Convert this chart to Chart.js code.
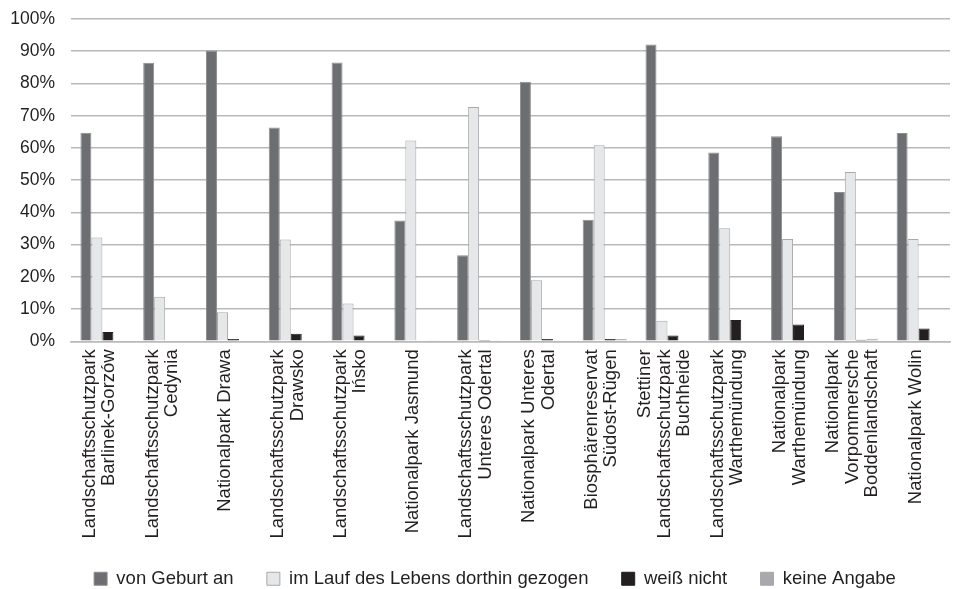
<!DOCTYPE html>
<html>
<head>
<meta charset="utf-8">
<script src="https://cdn.jsdelivr.net/npm/chart.js@4/dist/chart.umd.min.js"></script>
<style>
  html, body { margin: 0; padding: 0; background: #fff; overflow: hidden; }
  #wrap { width: 954px; height: 589px; overflow: hidden; }
</style>
</head>
<body>
<div id="wrap"><canvas id="chart" width="954" height="600"></canvas></div>
<script>
// categories (multi-line labels as shown under the axis)
var parks = [
    ['Landschaftsschutzpark', 'Barlinek-Gorzów'],
    ['Landschaftsschutzpark', 'Cedynia'],
    'Nationalpark Drawa',
    ['Landschaftsschutzpark', 'Drawsko'],
    ['Landschaftsschutzpark', 'Ińsko'],
    'Nationalpark Jasmund',
    ['Landschaftsschutzpark', 'Unteres Odertal'],
    ['Nationalpark Unteres', 'Odertal'],
    ['Biosphärenreservat', 'Südost-Rügen'],
    ['Stettiner', 'Landschaftsschutzpark', 'Buchheide'],
    ['Landschaftsschutzpark', 'Warthemündung'],
    ['Nationalpark', 'Warthemündung'],
    ['Nationalpark', 'Vorpommersche', 'Boddenlandschaft'],
    'Nationalpark Wolin'
];

// shares in percent
var vonGeburt   = [64.7, 86.4, 90.2, 66.3, 86.5, 37.5, 26.7, 80.5, 37.7, 92.1, 58.6, 63.6, 46.3, 64.6];
var zugezogen   = [32.2, 13.8, 9.0, 31.6, 11.7, 62.3, 72.7, 18.9, 60.8, 6.4, 35.1, 31.7, 52.5, 31.7];
var weissNicht  = [2.9, 0, 0.7, 2.3, 1.8, 0, 0.4, 0.7, 0.7, 1.8, 6.6, 5.2, 0.5, 4.0];
var keineAngabe = [0, 0, 0, 0, 0, 0.3, 0.3, 0, 0.7, 0, 0, 0, 0.8, 0];

var yTicks = [0, 10, 20, 30, 40, 50, 60, 70, 80, 90, 100];

Chart.defaults.font.family = '"Liberation Sans", Arial, sans-serif';
Chart.defaults.color = '#231f20';

// the legend in the original sits a bit right of centre
var legendShift = {
    id: 'legendShift',
    afterLayout: function (chart) {
        if (chart.legend) {
            chart.legend.left += 20;
            chart.legend.right += 20;
        }
    }
};

// centre multi-line rotated category labels on their tick
var centreLabels = {
    id: 'centreLabels',
    beforeDraw: function (chart) {
        var scale = chart.scales.x;
        scale.getLabelItems().forEach(function (item) {
            var n = Array.isArray(item.label) ? item.label.length : 1;
            var lh = item.font.lineHeight;
            item.textOffset = lh / 2 - (n - 1) * lh / 2 - 3;
        });
    }
};

var ctx = document.getElementById('chart').getContext('2d');
var chart = new Chart(ctx, {
    type: 'bar',
    data: {
        labels: parks,
        datasets: [{
            label: 'von Geburt an',
            data: vonGeburt,
            backgroundColor: '#6d6e71',
            borderColor: '#8d8e91',
            borderWidth: 1
        }, {
            label: 'im Lauf des Lebens dorthin gezogen',
            data: zugezogen,
            backgroundColor: '#e6e7e8',
            borderColor: '#a7a9ac',
            borderWidth: 1
        }, {
            label: 'weiß nicht',
            data: weissNicht,
            backgroundColor: '#231f20',
            borderColor: '#231f20',
            borderWidth: 1
        }, {
            label: 'keine Angabe',
            data: keineAngabe,
            backgroundColor: '#a7a9ac',
            borderColor: '#a7a9ac',
            borderWidth: 1
        }]
    },
    plugins: [legendShift, centreLabels],
    options: {
        responsive: false,
        animation: false,
        layout: {
            padding: { left: 0, right: 4, top: 19, bottom: 2 }
        },
        datasets: {
            bar: {
                categoryPercentage: 0.7,
                barPercentage: 1.0
            }
        },
        scales: {
            x: {
                grid: { display: false, drawTicks: false },
                border: { display: true, color: '#b9b9b9', width: 1.5 },
                afterFit: function (axis) {
                    axis.paddingLeft = 0;
                    axis.paddingRight = 0;
                },
                ticks: {
                    autoSkip: false,
                    maxRotation: 90,
                    minRotation: 90,
                    padding: 8,
                    color: '#231f20',
                    font: { size: 18.5, lineHeight: 1.05 }
                }
            },
            y: {
                min: 0,
                max: 100,
                afterBuildTicks: function (axis) {
                    axis.ticks = yTicks.map(v => ({ value: v }));
                },
                afterFit: function (axis) {
                    axis.width = 71;
                    axis.paddingTop = 0;
                    axis.paddingBottom = 0;
                },
                grid: { color: '#b9b9b9', lineWidth: 1.5, drawTicks: false },
                border: { display: false },
                ticks: {
                    padding: 16,
                    color: '#231f20',
                    font: { size: 17.5 },
                    callback: function (value) {
                        return value + '%';
                    }
                }
            }
        },
        plugins: {
            legend: {
                position: 'bottom',
                labels: {
                    boxWidth: 13,
                    boxHeight: 13,
                    padding: 23,
                    color: '#231f20',
                    font: { size: 18.5 },
                    generateLabels: function (chart) {
                        var items = Chart.defaults.plugins.legend.labels.generateLabels(chart);
                        items.forEach(function (item, i) {
                            if (i < items.length - 1) item.text = item.text + '\u00a0\u00a0';
                        });
                        return items;
                    }
                }
            },
            tooltip: { enabled: false }
        }
    }
});
</script>
</body>
</html>
